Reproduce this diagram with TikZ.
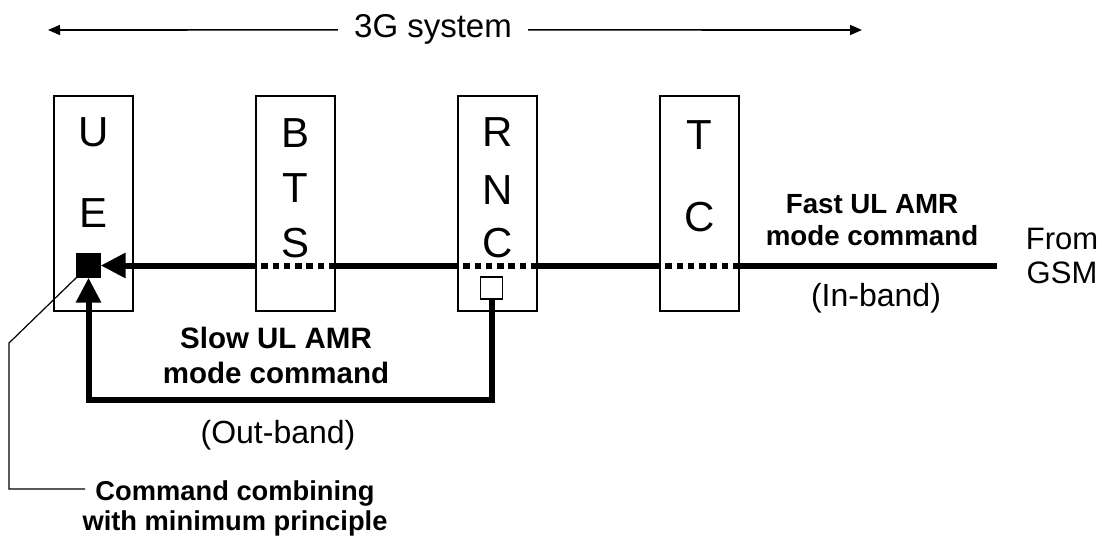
\documentclass[tikz,border=0pt]{standalone}
\usepackage{fontspec}
\setmainfont{Liberation Sans}
\usetikzlibrary{arrows.meta}

\begin{document}
\begin{tikzpicture}[x=1pt,y=-1pt,
  blk/.style={draw,line width=1.3pt,minimum width=79pt,minimum height=215pt,inner sep=0pt},
  letr/.style={inner sep=0pt,font=\fontsize{42}{48}\selectfont},
  sqr/.style={draw,line width=1.3pt,minimum size=23pt,inner sep=0pt},
  txt/.style={inner sep=0pt,align=center,anchor=base},
  cmd/.style={line width=6pt},
  inband/.style={line width=6pt,dash pattern=on 6.6pt off 4.7pt},
  tip/.style={-{Triangle[length=25pt,width=24pt]}},
  span/.style={line width=1.6pt,-{Triangle[length=12pt,width=10pt]}}]
\useasboundingbox (0,0) rectangle (1107,545);
% network elements
\node[blk] (ue) at (93.5,203.5) {};
\node[blk] (bts) at (295.5,203.5) {};
\node[blk] (rnc) at (497.5,203.5) {};
\node[blk] (tc) at (699.5,203.5) {};
\foreach \nm/\x/\y/\t in {ue-u/93.5/132/U, ue-e/93.5/213/E,
    bts-b/295.5/133/B, bts-t/295.5/188/T, bts-s/295.5/243/S,
    rnc-r/497.5/132/R, rnc-n/497.5/190/N, rnc-c/497.5/243/C,
    tc-t/699.5/135/T, tc-c/699.5/217/C}
  \node[letr] (\nm) at (\x,\y) {\t};
\node[sqr,fill=black] (comb) at (88.5,265.5) {};
\node[sqr,fill=white,minimum size=22pt] (slow) at (491.5,288) {};
% 3G system span
\node[txt,inner xsep=16pt,font=\fontsize{33}{38}\selectfont] (sys) at (433,38) {3G system};
\coordinate (sysl) at (48,30);
\coordinate (sysr) at (862,30);
\draw[span] (sys.west) -- (sysl);
\draw[span] (sys.east) -- (sysr);
% fast in-band command
\node[txt,font=\fontsize{31}{34}\selectfont] (gsm) at (1062,283) {From\\GSM};
\coordinate (gsmin) at (997,265.5);
\draw[cmd] (gsmin) -- (tc.east |- comb);
\draw[inband] (tc.east |- comb) -- (tc.west |- comb);
\draw[cmd] (tc.west |- comb) -- (rnc.east |- comb);
\draw[inband] (rnc.east |- comb) -- (rnc.west |- comb);
\draw[cmd] (rnc.west |- comb) -- (bts.east |- comb);
\draw[inband] (bts.east |- comb) -- (bts.west |- comb);
\draw[cmd,tip] (bts.west |- comb) -- (comb.east);
\node[txt,font=\bfseries\fontsize{27.7}{32}\selectfont] (fast) at (872,245) {Fast UL AMR\\mode command};
\node[inner sep=0pt,font=\fontsize{32}{36}\selectfont] (inb) at (876,298.5) {(In-band)};
% slow out-band command
\coordinate (loop) at (491.5,400);
\draw[cmd,tip] (slow.south) -- (loop) -| (comb.south);
\node[txt,font=\bfseries\fontsize{29.5}{35}\selectfont] (slowlbl) at (276,383) {Slow UL AMR\\mode command};
\node[inner sep=0pt,font=\fontsize{32}{36}\selectfont] (outb) at (278,435) {(Out-band)};
% combining note
\node[txt,font=\bfseries\fontsize{27.3}{30}\selectfont] (cmb) at (235,530) {Command combining\\with minimum principle};
\coordinate (knee) at (9,343);
\coordinate (cmbend) at (85,489);
\draw[line width=1.2pt] (comb.south west) -- (knee) |- (cmbend);
\end{tikzpicture}
\end{document}
